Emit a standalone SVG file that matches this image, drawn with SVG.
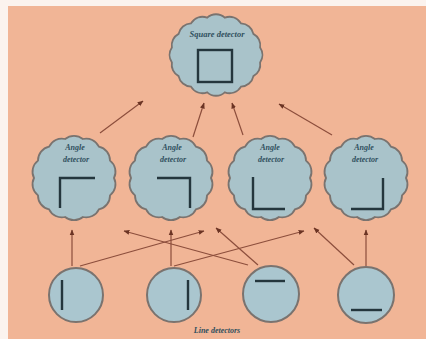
<svg xmlns="http://www.w3.org/2000/svg" width="426" height="339" viewBox="0 0 426 339">
<style>
.cloud{fill:#a9c3ca;stroke:#7a736f;stroke-width:1.8}
.det{fill:#aac6cf;stroke:#7a736f;stroke-width:2}
.feat{fill:none;stroke:#24363d;stroke-width:2.4}
.arr{fill:none;stroke:#8c4e3c;stroke-width:1.2;marker-end:url(#ah)}
.lbl{font-family:"Liberation Serif",serif;font-style:italic;font-weight:bold;fill:#30505e;text-anchor:middle}
</style>
<defs>
<marker id="ah" viewBox="0 0 10 10" refX="9" refY="5" markerWidth="6" markerHeight="6" markerUnits="userSpaceOnUse" orient="auto">
<path d="M0,1 L10,5 L0,9 Z" fill="#6b3424"/>
</marker>
<path id="acloud" d="M8.9,-39 A14,14 0 0 1 24.9,-31.3 A14,14 0 0 1 36,-17.4 A14,14 0 0 1 40,0 A14,14 0 0 1 36,17.4 A14,14 0 0 1 24.9,31.3 A14,14 0 0 1 8.9,39 A14,14 0 0 1 -8.9,39 A14,14 0 0 1 -24.9,31.3 A14,14 0 0 1 -36,17.4 A14,14 0 0 1 -40,0 A14,14 0 0 1 -36,-17.4 A14,14 0 0 1 -24.9,-31.3 A14,14 0 0 1 -8.9,-39 A14,14 0 0 1 8.9,-39 Z"/>
</defs>
<rect x="0" y="0" width="426" height="339" fill="#fbf3ee"/>
<rect x="8" y="6" width="418" height="333" fill="#f1b596"/>

<g id="connectors">
<line class="arr" x1="100" y1="133" x2="143" y2="101"/>
<line class="arr" x1="193" y1="137" x2="204" y2="103"/>
<line class="arr" x1="243" y1="135" x2="232" y2="103"/>
<line class="arr" x1="332" y1="135" x2="279" y2="104"/>
<line class="arr" x1="72" y1="266" x2="72" y2="230"/>
<line class="arr" x1="80" y1="266" x2="204" y2="231"/>
<line class="arr" x1="171" y1="266" x2="171" y2="230"/>
<line class="arr" x1="174" y1="266" x2="304" y2="231"/>
<line class="arr" x1="248" y1="265" x2="124" y2="231"/>
<line class="arr" x1="258" y1="265" x2="216" y2="228"/>
<line class="arr" x1="354" y1="265" x2="314" y2="228"/>
<line class="arr" x1="366" y1="266" x2="366" y2="230"/>
</g>

<g id="square-detector">
<path class="cloud" transform="translate(216,55)" d="M8.8,-37.3 A13,13 0 0 1 25,-31.6 A13,13 0 0 1 37.4,-21.1 A13,13 0 0 1 44.1,-7.4 A13,13 0 0 1 44.1,7.4 A13,13 0 0 1 37.4,21.1 A13,13 0 0 1 25,31.6 A13,13 0 0 1 8.8,37.3 A13,13 0 0 1 -8.8,37.3 A13,13 0 0 1 -25,31.6 A13,13 0 0 1 -37.4,21.1 A13,13 0 0 1 -44.1,7.4 A13,13 0 0 1 -44.1,-7.4 A13,13 0 0 1 -37.4,-21.1 A13,13 0 0 1 -25,-31.6 A13,13 0 0 1 -8.8,-37.3 A13,13 0 0 1 8.8,-37.3 Z"/>
<text class="lbl" x="217" y="37" font-size="8.5">Square detector</text>
<rect class="feat" x="198" y="50" width="34" height="32"/>
</g>

<g id="angle-1">
<use href="#acloud" class="cloud" transform="translate(74,178)"/>
<text class="lbl" x="75" y="150" font-size="8">Angle</text>
<text class="lbl" x="76" y="162" font-size="8">detector</text>
<path class="feat" d="M60,208 V178 H95"/>
</g>
<g id="angle-2">
<use href="#acloud" class="cloud" transform="translate(171,178)"/>
<text class="lbl" x="172" y="150" font-size="8">Angle</text>
<text class="lbl" x="173" y="162" font-size="8">detector</text>
<path class="feat" d="M157,178 H190 V208"/>
</g>
<g id="angle-3">
<use href="#acloud" class="cloud" transform="translate(270,178)"/>
<text class="lbl" x="270" y="150" font-size="8">Angle</text>
<text class="lbl" x="271" y="162" font-size="8">detector</text>
<path class="feat" d="M253,177 V209 H285"/>
</g>
<g id="angle-4">
<use href="#acloud" class="cloud" transform="translate(366,178)"/>
<text class="lbl" x="364" y="150" font-size="8">Angle</text>
<text class="lbl" x="365" y="162" font-size="8">detector</text>
<path class="feat" d="M351,209 H383 V178"/>
</g>

<g id="line-1">
<circle class="det" cx="76" cy="295" r="27"/>
<line class="feat" x1="62" y1="280" x2="62" y2="310"/>
</g>
<g id="line-2">
<circle class="det" cx="174" cy="295" r="27"/>
<line class="feat" x1="188" y1="280" x2="188" y2="310"/>
</g>
<g id="line-3">
<circle class="det" cx="271" cy="294" r="28"/>
<line class="feat" x1="255" y1="281" x2="285" y2="281"/>
</g>
<g id="line-4">
<circle class="det" cx="366" cy="295" r="28"/>
<line class="feat" x1="351" y1="310" x2="382" y2="310"/>
</g>

<text class="lbl" x="217" y="333" font-size="8">Line detectors</text>
</svg>
